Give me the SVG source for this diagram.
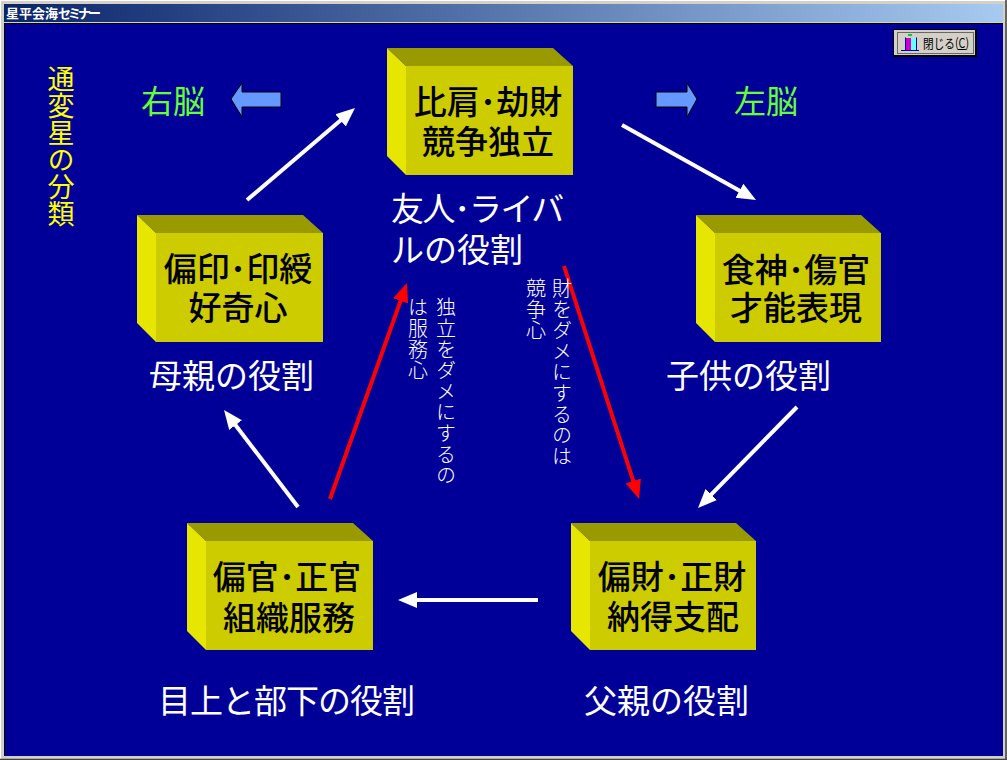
<svg xmlns="http://www.w3.org/2000/svg" width="1007" height="760" viewBox="0 0 1007 760">
<style>
text{font-family:"Noto Sans CJK JP","Noto Sans CJK SC",sans-serif}
.top{fill:#999900}.side{fill:#e6e600}.front{fill:#cccc00}
.bt{font-size:33px;fill:#000;text-anchor:middle;font-weight:500}
.lb{font-size:33px;fill:#fff}
.gr{font-size:32px;fill:#66ff33}
.vs{font-size:20px;fill:#fff;writing-mode:vertical-rl;letter-spacing:1px;font-weight:300}
.w{stroke:#fff;stroke-width:4;fill:none;marker-end:url(#hw)}
.r{stroke:#ff0000;stroke-width:4;fill:none;marker-end:url(#hr)}
.blue{fill:#6699ff;stroke:#000;stroke-width:1}
</style>
<defs>
<linearGradient id="tb" x1="0" x2="1" y1="0" y2="0"><stop offset="0" stop-color="#0a246a"/><stop offset="1" stop-color="#a6caf0"/></linearGradient>
<marker id="hw" markerUnits="userSpaceOnUse" markerWidth="20" markerHeight="18" refX="9" refY="9" orient="auto"><path d="M0,1L19,9L0,17z" fill="#fff"/></marker>
<marker id="hr" markerUnits="userSpaceOnUse" markerWidth="20" markerHeight="18" refX="9" refY="9" orient="auto"><path d="M0,1L19,9L0,17z" fill="#ff0000"/></marker>
<g id="box"><path class="top" d="M0,0H166L186,18H19z"/><path class="side" d="M0,0L19,18V127L0,108z"/><rect class="front" x="19" y="18" width="167" height="109"/></g>
<g id="box-n"><path class="top" d="M0,0H165L185,18H19z"/><path class="side" d="M0,0L19,18V127L0,108z"/><rect class="front" x="19" y="18" width="166" height="109"/></g>
</defs>
<rect width="1007" height="760" fill="#d4d0c8"/>
<path d="M0,.5H1007M.5,0V760" stroke="#fff"/>
<path d="M1006,0V760M0,759.500H1007" stroke="#404040" stroke-width="1.500"/>
<rect x="4" y="4" width="999" height="18" fill="url(#tb)"/>
<text x="6" y="18" font-size="13" font-weight="700" fill="#fff">星平会海<tspan letter-spacing="-3">セミナー</tspan></text>
<rect x="4" y="23" width="999" height="733" fill="#000099"/>
<path d="M4,23.500H1003M4.500,23V756" stroke="#000"/>
<g id="button">
<rect x="893.500" y="29.500" width="83" height="27" fill="#d4d0c8" stroke="#000"/>
<path d="M976,30V56H894" fill="none" stroke="#000" stroke-width="2"/>
<rect x="897.500" y="32.500" width="76" height="21" fill="none" stroke="#000" stroke-dasharray="1 1"/>
<rect x="908" y="34" width="4" height="2" fill="#00cc33"/>
<rect x="906" y="38" width="5" height="12" fill="#cc00cc"/>
<rect x="911" y="38" width="5" height="12" fill="#66ffff"/>
<path d="M901,50.500H919" stroke="#000099"/>
<path d="M905.500,37.500V50M916.500,37.500V50" stroke="#000099"/>
<text x="923" y="48" font-size="13" fill="#000" textLength="46" lengthAdjust="spacingAndGlyphs">閉じる(C)</text>
<path d="M958,49.500H966" stroke="#000"/>
</g>
<g id="connectors">
<path class="w" d="M247,200L347.400,114.500"/>
<path class="w" d="M622,125L747.300,195.100"/>
<path class="w" d="M797,407L705,500.900"/>
<path class="w" d="M538,600L408,600"/>
<path class="w" d="M298,507L230.100,418"/>
<path class="r" d="M330,499L403.600,292.400"/>
<path class="r" d="M564,266L636,489.500"/>
</g>
<g id="node-hiken"><use href="#box" x="387" y="48"/><text class="bt"><tspan x="488" y="114">比肩･劫財</tspan><tspan x="488" y="154">競争独立</tspan></text><text class="lb"><tspan x="391" y="221" letter-spacing="-1.500">友人･ライバ</tspan><tspan x="391" y="262">ルの役割</tspan></text></g>
<g id="node-shokujin"><use href="#box-n" x="696" y="215"/><text class="bt"><tspan x="796" y="282">食神･傷官</tspan><tspan x="796" y="320">才能表現</tspan></text><text class="lb" x="666" y="388">子供の役割</text></g>
<g id="node-henzai"><use href="#box-n" x="571" y="523"/><text class="bt" font-weight="700"><tspan x="672" y="589">偏財･正財</tspan><tspan x="673" y="629">納得支配</tspan></text><text class="lb" x="584" y="713">父親の役割</text></g>
<g id="node-henkan"><use href="#box" x="187" y="523"/><text class="bt"><tspan x="287" y="589">偏官･正官</tspan><tspan x="289" y="630">組織服務</tspan></text><text class="lb" x="158" y="713" letter-spacing="-1">目上と部下の役割</text></g>
<g id="node-henin"><use href="#box" x="137" y="215"/><text class="bt"><tspan x="238" y="281">偏印･印綬</tspan><tspan x="238" y="320">好奇心</tspan></text><text class="lb" x="149" y="388">母親の役割</text></g>
<g id="left-title"><text x="61" y="65" font-size="27" fill="#ffff00" style="writing-mode:vertical-rl">通変星の分類</text></g>
<g id="right-brain"><text class="gr" x="141" y="113">右脳</text><path class="blue" d="M231,99L242,83V92H281V107H242V117z"/></g>
<g id="left-brain"><text class="gr" x="734" y="113">左脳</text><path class="blue" d="M697,99L687,83V92H656V107H687V117z"/></g>
<g id="notes">
<text class="vs" x="562" y="278">財をダメにするのは</text>
<text class="vs" x="536" y="278">競争心</text>
<text class="vs" x="446" y="297">独立をダメにするの</text>
<text class="vs" x="418" y="297">は服務心</text>
</g>
</svg>
